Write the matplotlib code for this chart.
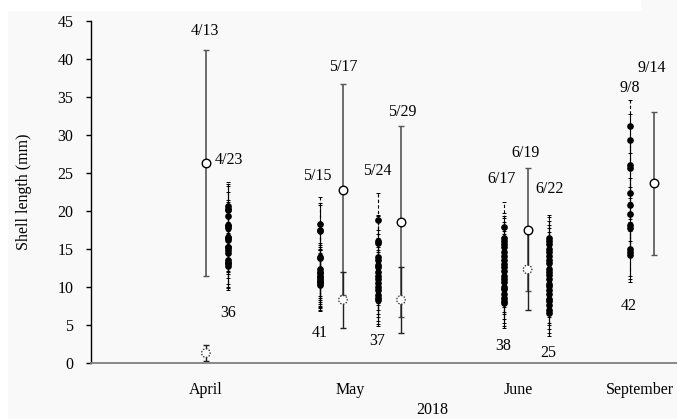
"""Shell length by sampling date, 2018 (individual shells and cohort means)."""

import matplotlib
matplotlib.use("Agg")
import matplotlib.pyplot as plt
from matplotlib.patches import Rectangle

plt.rcParams["font.family"] = ["Liberation Serif", "DejaVu Serif"]
plt.rcParams["font.size"] = 11.5

# ---- data -------------------------------------------------------------
# individual shells (filled dots with dashed error bars)
ind_dates = ["4/23", "5/15", "5/24", "6/17", "6/22", "9/8"]
ind_counts = ["36", "41", "37", "38", "25", "42"]
ind_err = [3.2, 3.5, 3.5, 3.3, 3.1, 3.5]
ind_values = [
    [20.6, 20.3, 20.1, 19.3, 18.2, 18.0, 17.7, 16.6, 16.4, 16.2, 15.3, 15.2,
     14.9, 14.4, 13.6, 13.2, 13.1, 12.8],
    [18.3, 17.5, 17.3, 14.0, 13.8, 12.3, 12.0, 11.8, 11.5, 11.3, 11.0, 10.8,
     10.7, 10.5, 10.3],
    [18.8, 16.0, 15.8, 14.0, 13.5, 12.9, 12.6, 12.0, 11.4, 11.1, 10.5, 10.0,
     9.6, 9.0, 8.6, 8.3],
    [17.9, 16.4, 16.0, 15.7, 15.2, 14.6, 14.1, 13.6, 13.0, 12.6, 12.1, 11.5,
     11.1, 10.6, 10.0, 9.7, 9.1, 8.6, 8.2, 7.9],
    [16.4, 16.1, 15.6, 15.0, 14.6, 14.1, 13.5, 13.1, 12.4, 12.0, 11.6, 11.1,
     10.4, 10.1, 9.6, 9.1, 8.4, 8.1, 7.6, 7.0, 6.6],
    [31.1, 29.3, 26.0, 25.7, 22.4, 20.8, 19.6, 18.2, 17.7, 15.0, 14.6, 14.2],
]

# cohort means (open circles) +- spread
mean_dates = ["4/13", "5/17", "5/29", "6/19", "9/14"]
upper_mean = [26.3, 22.8, 18.6, 17.5, 23.6]
upper_err = [14.85, 13.9, 12.5, 8.1, 9.4]
lower_dates = ["4/13", "5/17", "5/29", "6/19"]
lower_mean = [1.3, 8.3, 8.3, 12.3]
lower_err = [1.05, 3.7, 4.3, 5.3]

months = ["April", "May", "June", "September"]

# ---- layout -----------------------------------------------------------
xpos = {"4/13": 1.96, "4/23": 2.34, "5/15": 3.91, "5/17": 4.30, "5/24": 4.90,
        "5/29": 5.29, "6/17": 7.05, "6/19": 7.45, "6/22": 7.82, "9/8": 9.20,
        "9/14": 9.60}
month_pos = [1.95, 4.42, 7.29, 9.37]
date_label_pos = {"4/13": (1.95, 43.6), "4/23": (2.36, 26.7), "5/15": (3.87, 24.6),
                  "5/17": (4.30, 38.9), "5/24": (4.88, 25.3), "5/29": (5.31, 33.0),
                  "6/17": (7.01, 24.2), "6/19": (7.42, 27.6), "6/22": (7.82, 22.9),
                  "9/8": (9.20, 36.2), "9/14": (9.57, 38.8)}
count_label_pos = [(2.34, 6.6), (3.91, 3.9), (4.88, 2.9), (7.03, 2.2),
                   (7.80, 1.3), (9.18, 7.5)]

fig = plt.figure(figsize=(6.77, 4.19), dpi=100, facecolor="#f9f9f9")
fig.patches.append(Rectangle((0, 1 - 10 / 419), 640 / 677, 10 / 419,
                             transform=fig.transFigure, color="white", zorder=0))
fig.patches.append(Rectangle((0, 0), 7 / 677, 1, transform=fig.transFigure,
                             color="white", zorder=0))

ax = fig.add_axes([91 / 677, 1 - 363 / 419, 586 / 677, (363 - 20.7) / 419])
ax.set_facecolor("none")

for date, vals, err in zip(ind_dates, ind_values, ind_err):
    x = [xpos[date]] * len(vals)
    eb = ax.errorbar(x, vals, yerr=err, fmt="o", color="black", ms=3.8,
                     elinewidth=0.8, capsize=1.6, capthick=0.7, zorder=3)
    eb[2][0].set_linestyle((0, (3, 2)))

ux = [xpos[d] for d in mean_dates]
ax.errorbar(ux, upper_mean, yerr=upper_err, fmt="none", ecolor="#555555",
            elinewidth=1.2, capsize=2.0, capthick=1.0, zorder=2)
lx = [xpos[d] for d in lower_dates]
ax.errorbar(lx, lower_mean, yerr=lower_err, fmt="none", ecolor="#222222",
            elinewidth=1.0, capsize=2.0, capthick=1.0, zorder=2)
ax.scatter(ux, upper_mean, s=38, facecolor="white", edgecolor="black",
           linewidth=1.0, zorder=4)
ax.scatter(lx, lower_mean, s=38, facecolor="white", edgecolor="#333333",
           linewidth=0.9, linestyle=(0, (1.2, 1.2)), zorder=4)

for date, (tx, ty) in date_label_pos.items():
    ax.text(tx, ty, date, ha="center", va="center")
for label, (tx, ty) in zip(ind_counts, count_label_pos):
    ax.text(tx, ty, label, ha="center", va="center")

ax.set_xlim(0, 10)
ax.set_ylim(0, 45)
ax.set_yticks(range(0, 46, 5))
ax.set_xticks(month_pos, months)
ax.tick_params(axis="x", length=0, pad=14)
ax.tick_params(axis="y", direction="out", length=3.6, width=1.0, pad=9)

for side in ("top", "right"):
    ax.spines[side].set_visible(False)
ax.spines["bottom"].set_color("#808080")
ax.spines["bottom"].set_linewidth(1.3)
ax.spines["left"].set_color("black")
ax.spines["left"].set_linewidth(1.0)

ax.set_ylabel("Shell length (mm)")
ax.yaxis.set_label_coords(-0.1, 0.5)
ax.set_xlabel("2018")
ax.xaxis.set_label_coords(0.582, -0.114)

fig.savefig("out.png", dpi=100, facecolor=fig.get_facecolor())
